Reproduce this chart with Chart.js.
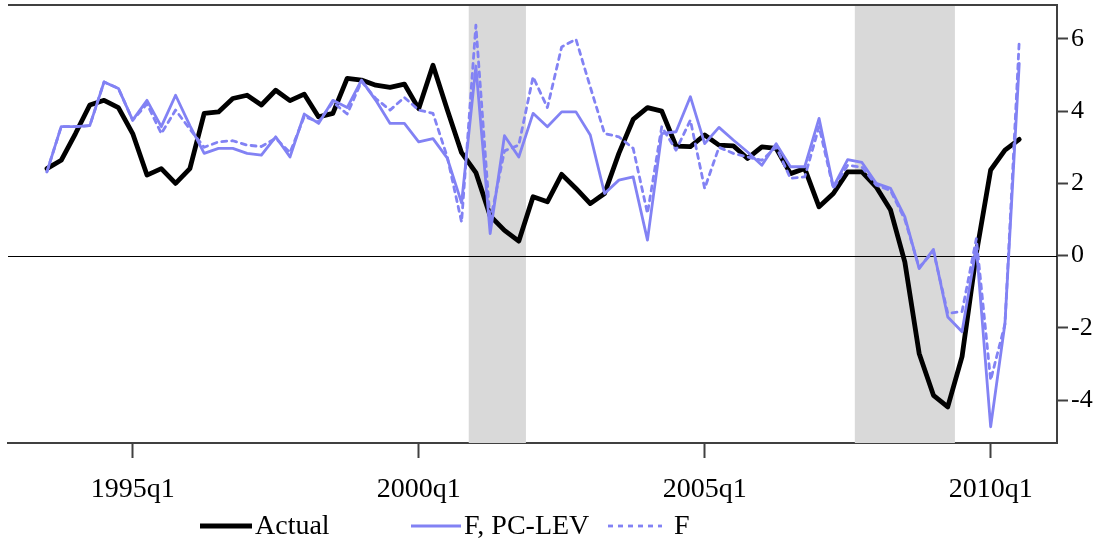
<!DOCTYPE html>
<html>
<head>
<meta charset="utf-8">
<style>
  html, body { margin: 0; padding: 0; background: #fff; }
  #wrap { width: 1104px; height: 552px; }
</style>
<script src="https://cdn.jsdelivr.net/npm/chart.js@4.4.1/dist/chart.umd.min.js"></script>
</head>
<body>
<div id="wrap"><canvas id="chart" width="1104" height="552"></canvas></div>
<script>
// quarterly, 1993q3 .. 2010q3
const startYear = 1993.5;

const actual = [
  2.41, 2.64, 3.38, 4.17, 4.30, 4.10, 3.38, 2.23, 2.41, 2.00,
  2.41, 3.94, 3.98, 4.35, 4.44, 4.17, 4.58, 4.29, 4.47, 3.84,
  3.94, 4.91, 4.86, 4.72, 4.66, 4.75, 4.07, 5.27, 4.04, 2.85,
  2.30, 1.10, 0.70, 0.40, 1.63, 1.49, 2.25, 1.86, 1.44, 1.72,
  2.83, 3.77, 4.10, 4.00, 3.03, 3.02, 3.34, 3.06, 3.04, 2.69,
  3.01, 2.97, 2.27, 2.41, 1.35, 1.72, 2.32, 2.32, 1.90, 1.26,
  -0.18, -2.71, -3.87, -4.19, -2.80, 0.06, 2.37, 2.92, 3.22
];
const pcLev = [
  2.32, 3.57, 3.57, 3.60, 4.81, 4.63, 3.75, 4.30, 3.57, 4.44,
  3.60, 2.83, 2.97, 2.97, 2.83, 2.78, 3.29, 2.73, 3.92, 3.66,
  4.30, 4.10, 4.86, 4.30, 3.66, 3.66, 3.15, 3.24, 2.70, 1.46,
  5.25, 0.61, 3.32, 2.73, 3.94, 3.57, 3.98, 3.98, 3.34, 1.72,
  2.09, 2.18, 0.43, 3.38, 3.43, 4.40, 3.10, 3.55, 3.20, 2.87,
  2.50, 3.10, 2.46, 2.46, 3.80, 1.90, 2.66, 2.58, 2.00, 1.86,
  1.07, -0.36, 0.17, -1.70, -2.11, 0.24, -4.74, -1.88, 5.32
];
const fOnly = [
  2.32, 3.57, 3.57, 3.60, 4.81, 4.63, 3.75, 4.20, 3.38, 4.03,
  3.50, 3.00, 3.15, 3.18, 3.06, 3.02, 3.25, 2.85, 3.85, 3.70,
  4.25, 3.92, 4.82, 4.35, 4.03, 4.38, 4.03, 3.94, 2.73, 0.93,
  6.38, 0.95, 2.90, 3.06, 4.95, 4.10, 5.78, 5.99, 4.67, 3.38,
  3.29, 2.97, 1.17, 3.57, 2.92, 3.75, 1.86, 3.00, 2.83, 2.73,
  2.64, 3.01, 2.14, 2.18, 3.57, 1.86, 2.50, 2.45, 1.95, 1.80,
  1.00, -0.33, 0.12, -1.60, -1.55, 0.47, -3.45, -1.90, 5.95
];
const recessions = [[2000.875, 2001.875], [2007.625, 2009.375]];
const xTicks = [1995, 2000, 2005, 2010];
const yTicks = [-4, -2, 0, 2, 4, 6];

const BLUE = "#8282f4";
const FONT = "Liberation Serif";

function toPoints(vals) {
  return vals.map((v, i) => ({ x: startYear + i / 4, y: v }));
}

const extras = {
  id: "extras",
  beforeDatasetsDraw(chart) {
    const { ctx, chartArea: a, scales: { x, y } } = chart;
    ctx.save();
    ctx.fillStyle = "#d9d9d9";
    recessions.forEach(([s, e]) => {
      const x0 = x.getPixelForValue(s), x1 = x.getPixelForValue(e);
      ctx.fillRect(x0, a.top, x1 - x0, a.bottom - a.top);
    });
    const y0 = Math.round(y.getPixelForValue(0)) + 0.5;
    ctx.strokeStyle = "#000";
    ctx.lineWidth = 1.2;
    ctx.beginPath();
    ctx.moveTo(a.left, y0);
    ctx.lineTo(a.right, y0);
    ctx.stroke();
    ctx.restore();
  },
  afterDraw(chart) {
    const { ctx, chartArea: a } = chart;
    ctx.save();
    // top frame line
    ctx.strokeStyle = "#404040";
    ctx.lineWidth = 2;
    ctx.beginPath();
    ctx.moveTo(a.left, a.top);
    ctx.lineTo(a.right + 1, a.top);
    ctx.stroke();
    // legend
    const ly = 526;
    const items = [
      { x0: 200, x1: 252, tx: 255, ds: chart.data.datasets[0] },
      { x0: 411, x1: 461, tx: 464, ds: chart.data.datasets[1] },
      { x0: 608, x1: 662, tx: 674, ds: chart.data.datasets[2] },
    ];
    ctx.font = `28px "${FONT}"`;
    ctx.textBaseline = "middle";
    items.forEach(it => {
      ctx.strokeStyle = it.ds.borderColor;
      ctx.lineWidth = it.ds.borderWidth;
      ctx.setLineDash(it.ds.borderDash || []);
      ctx.beginPath();
      ctx.moveTo(it.x0, ly);
      ctx.lineTo(it.x1, ly);
      ctx.stroke();
      ctx.setLineDash([]);
      ctx.fillStyle = "#000";
      ctx.fillText(it.ds.label, it.tx, ly + 1);
    });
    ctx.restore();
  }
};

new Chart(document.getElementById("chart"), {
  type: "line",
  data: {
    datasets: [
      { label: "Actual", data: toPoints(actual), borderColor: "#000", borderWidth: 4.8, order: 2 },
      { label: "F, PC-LEV", data: toPoints(pcLev), borderColor: BLUE, borderWidth: 2.8, order: 1 },
      { label: "F", data: toPoints(fOnly), borderColor: BLUE, borderWidth: 2.8, borderDash: [5, 5], order: 0 },
    ]
  },
  options: {
    responsive: false,
    animation: false,
    layout: { padding: { left: 8, top: 5, right: 0, bottom: 0 } },
    elements: { point: { radius: 0 }, line: { tension: 0, fill: false, borderJoinStyle: "round", borderCapStyle: "round" } },
    plugins: { legend: { display: false }, tooltip: { enabled: false } },
    scales: {
      x: {
        type: "linear",
        min: 1992.82,
        max: 2011.16,
        afterBuildTicks: s => { s.ticks = xTicks.map(v => ({ value: v })); },
        afterFit: s => { s.height = 109; s.paddingLeft = 0; s.paddingRight = 0; },
        grid: { drawOnChartArea: false, drawTicks: true, tickLength: 15, tickColor: "#404040", tickWidth: 2 },
        border: { display: true, color: "#404040", width: 2 },
        ticks: { color: "#000", font: { family: FONT, size: 28 }, padding: 15, maxRotation: 0, callback: v => `${v}q1` }
      },
      y: {
        position: "right",
        min: -5.19,
        max: 6.94,
        afterBuildTicks: s => { s.ticks = yTicks.map(v => ({ value: v })); },
        afterFit: s => { s.width = 47; s.paddingTop = 0; s.paddingBottom = 0; },
        grid: { drawOnChartArea: false, drawTicks: true, tickLength: 11, tickColor: "#404040", tickWidth: 2 },
        border: { display: true, color: "#404040", width: 2 },
        ticks: { color: "#000", font: { family: FONT, size: 26 }, padding: 3, callback: v => `${v}` }
      }
    }
  },
  plugins: [extras]
});
</script>
</body>
</html>
